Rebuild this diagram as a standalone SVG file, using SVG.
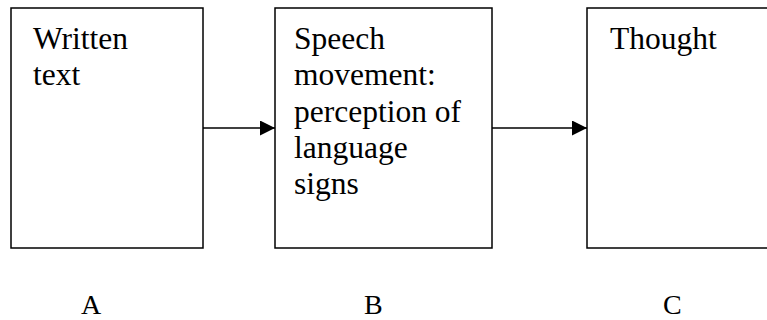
<svg xmlns="http://www.w3.org/2000/svg" width="767" height="320" viewBox="0 0 767 320">
<style>
.box{fill:#fff;stroke:#000;stroke-width:1.5}
.t{font-family:"Liberation Serif","Times New Roman",serif;font-size:31.5px;fill:#000}
.lbl{font-family:"Liberation Serif","Times New Roman",serif;font-size:28px;fill:#000}
.c{stroke:#000;stroke-width:1.5;fill:none}
</style>
<defs>
<marker id="ah" viewBox="0 0 15 15" refX="15" refY="7.5" markerWidth="15" markerHeight="15" markerUnits="userSpaceOnUse" orient="auto">
<path d="M0,0 L15,7.5 L0,15 Z" fill="#000"/>
</marker>
</defs>
<rect width="767" height="320" fill="#fff"/>
<g id="nodeA">
<rect class="box" x="11" y="8" width="192" height="240"/>
<text class="t" x="33" y="49">Written</text>
<text class="t" x="33" y="85">text</text>
</g>
<g id="nodeB">
<rect class="box" x="275" y="8" width="217" height="240"/>
<text class="t" x="294" y="49">Speech</text>
<text class="t" x="294" y="85">movement:</text>
<text class="t" x="294" y="122">perception of</text>
<text class="t" x="294" y="158">language</text>
<text class="t" x="294" y="194">signs</text>
</g>
<g id="nodeC">
<rect class="box" x="587" y="8" width="200" height="240"/>
<text class="t" x="610" y="49">Thought</text>
</g>
<g id="connectors">
<line class="c" x1="203" y1="128" x2="275" y2="128" marker-end="url(#ah)"/>
<line class="c" x1="492" y1="128" x2="587" y2="128" marker-end="url(#ah)"/>
</g>
<g id="labels">
<text class="lbl" x="81" y="314">A</text>
<text class="lbl" x="364" y="314">B</text>
<text class="lbl" x="663" y="314">C</text>
</g>
</svg>
